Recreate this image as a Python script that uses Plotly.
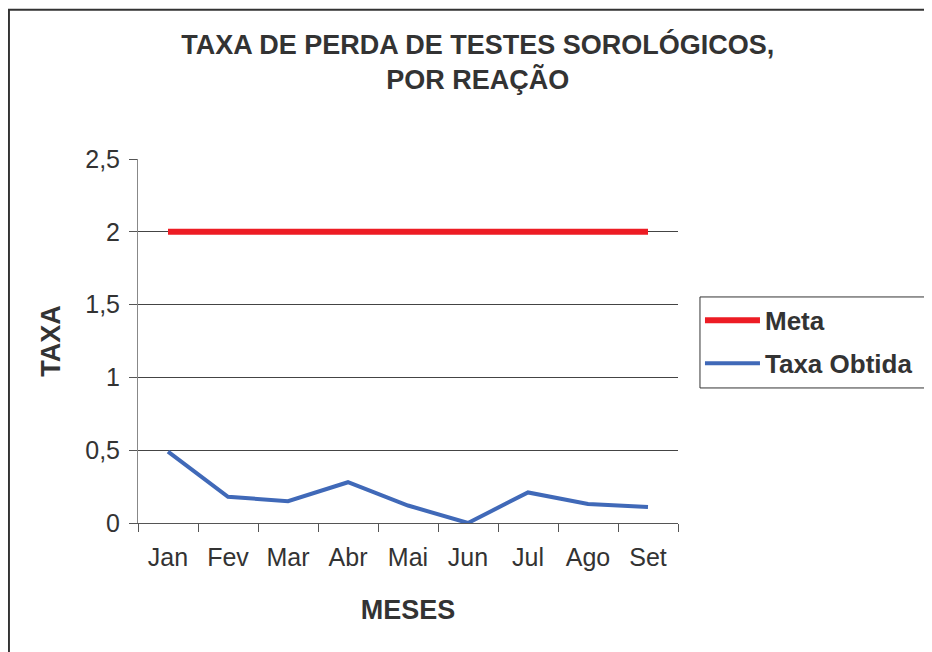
import plotly.graph_objects as go

meses = ["Jan", "Fev", "Mar", "Abr", "Mai", "Jun", "Jul", "Ago", "Set"]
meta = [2, 2, 2, 2, 2, 2, 2, 2, 2]
taxa_obtida = [0.49, 0.18, 0.15, 0.28, 0.12, 0.0, 0.21, 0.13, 0.11]
y_ticks = [0, 0.5, 1, 1.5, 2, 2.5]

FONT = "Liberation Sans, Arial, sans-serif"
TXT = "#333333"

fig = go.Figure()
fig.add_trace(go.Scatter(x=meses, y=meta, name="<b>Meta</b>", mode="lines",
                         legendgroup="meta",
                         line=dict(color="#ED1C24", width=6)))
fig.add_trace(go.Scatter(x=meses, y=taxa_obtida, name="<b>Taxa Obtida</b>", mode="lines",
                         legendgroup="taxa",
                         line=dict(color="#4069B8", width=4)))

# outer frame of the chart
fig.add_shape(type="rect", xref="paper", yref="paper",
              x0=-0.239, x1=1.5, y0=-0.5, y1=1.41,
              line=dict(color="#333333", width=2), layer="below")
# legend frame, runs off the right edge like in the original
fig.add_shape(type="rect", xref="paper", yref="paper",
              x0=1.0407, x1=1.5, y0=0.371, y1=0.621,
              line=dict(color="#333333", width=1), layer="above")

fig.update_layout(
    width=932, height=652,
    margin=dict(l=130, r=262, t=151, b=137),
    paper_bgcolor="white", plot_bgcolor="white",
    separators=", ",
    font=dict(family=FONT, size=25, color=TXT),
    title=dict(text="<b>TAXA DE PERDA DE TESTES SOROLÓGICOS,<br>POR REAÇÃO</b>",
               x=0.504, xanchor="center", y=0.929, yanchor="middle",
               font=dict(size=27, color=TXT)),
    showlegend=True,
    legend=dict(x=1.0407, y=0.621, xanchor="left", yanchor="top",
                borderwidth=0, bgcolor="rgba(0,0,0,0)",
                font=dict(size=26, color=TXT),
                traceorder="grouped", tracegroupgap=6,
                itemwidth=55),
    xaxis=dict(
        type="category", range=[-0.5, 8.5], tickson="boundaries",
        ticks="outside", ticklen=8, tickcolor="#555555",
        ticklabelstandoff=12,
        showline=True, linecolor="#555555", linewidth=1,
        showgrid=False, zeroline=False,
        title=dict(text="<b>MESES</b>", font=dict(size=27, color=TXT), standoff=30),
    ),
    yaxis=dict(
        range=[0, 2.5], tickvals=y_ticks,
        ticks="outside", ticklen=8, tickcolor="#555555",
        ticklabelstandoff=4,
        showline=True, linecolor="#888888", linewidth=1,
        showgrid=True, gridcolor="#444444", gridwidth=1,
        zeroline=False,
        title=dict(text="<b>TAXA</b>", font=dict(size=27, color=TXT), standoff=16),
    ),
)

fig.write_html("out.html")
